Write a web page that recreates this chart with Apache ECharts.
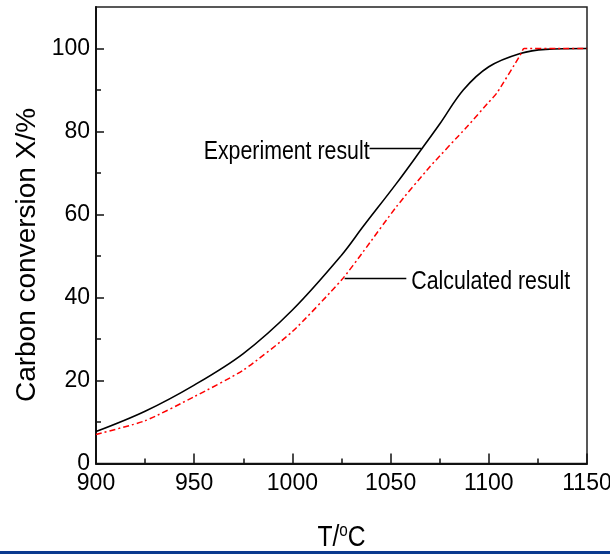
<!DOCTYPE html>
<html>
<head>
<meta charset="utf-8">
<title>carbon conversion</title>
<script src="https://cdn.jsdelivr.net/npm/echarts@6/dist/echarts.min.js"></script>
<style>
  html, body { margin: 0; padding: 0; background: #fff; }
  #main { width: 610px; height: 554px; }
</style>
</head>
<body>
<div id="main"></div>
<script>
// experiment curve (black)
var tempExp = [900, 925, 950, 975, 1000, 1025, 1036, 1053, 1066, 1075, 1087, 1100, 1116, 1129, 1150];
var convExp = [7.7, 12.6, 18.9, 26.5, 37, 50.2, 57.1, 67.5, 75.9, 81.8, 90, 95.6, 98.8, 99.8, 100];
// calculated curve (red dash-dot)
var tempCalc = [900, 925, 950, 975, 1000, 1025, 1036, 1053, 1070, 1089, 1100, 1104, 1116, 1118, 1135, 1150];
var convCalc = [7.0, 10.3, 16.1, 22.5, 31.8, 44.2, 51, 61.9, 71.5, 81.2, 87.1, 89.2, 98.4, 100, 100, 100];
// annotations: leader line from (x1,y1) to (x2,y2), text on one side
var annoText = ['Experiment result', 'Calculated result'];
var annoLine = [[1039.3, 75.9, 1065.7, 75.9], [1026.6, 44.6, 1058.0, 44.6]];
var annoSide = ['left', 'right'];
var yMajor = [0, 20, 40, 60, 80, 100];
var yMinor = [10, 30, 50, 70, 90];

var sans = "'Liberation Sans', Arial, sans-serif";

function zip(a, b) {
    var out = [];
    for (var i = 0; i < a.length; i++) out.push([a[i], b[i]]);
    return out;
}

var annoData = [];
for (var i = 0; i < annoLine.length; i++) annoData.push(annoLine[i].concat([i]));

function renderAnno(params, api) {
    var p1 = api.coord([api.value(0), api.value(1)]);
    var p2 = api.coord([api.value(2), api.value(3)]);
    var k = api.value(4);
    var left = annoSide[k] === 'left';
    return {
        type: 'group',
        children: [{
            type: 'line',
            shape: { x1: p1[0], y1: p1[1], x2: p2[0], y2: p2[1] },
            style: { stroke: '#000', lineWidth: 1.5 }
        }, {
            type: 'text',
            x: left ? p1[0] : p2[0] + 5, y: p1[1] + 3,
            scaleX: 0.82,
            style: { text: annoText[k], fill: '#000', font: '26px ' + sans,
                     align: left ? 'right' : 'left', verticalAlign: 'middle' }
        }]
    };
}

var myChart = echarts.init(document.getElementById('main'));

var option = {
    animation: false,
    grid: { left: 96, right: 23, top: 7, bottom: 90.5, show: true, borderColor: '#222', borderWidth: 1.5, outerBoundsMode: 'none' },
    xAxis: {
        type: 'value', min: 900, max: 1150, interval: 50,
        axisLine: { lineStyle: { color: '#111', width: 2 } },
        axisTick: { inside: true, length: 10, lineStyle: { color: '#111', width: 1.5 } },
        minorTick: { show: true, splitNumber: 2, length: 5, lineStyle: { color: '#111', width: 1.5 } },
        axisLabel: { color: '#000', fontFamily: sans, fontSize: 23, margin: 9, formatter: function (v) { return String(v); } },
        splitLine: { show: false }
    },
    yAxis: [{
        type: 'value', min: 0, max: 110, position: 'left',
        axisLine: { show: true, lineStyle: { color: '#111', width: 2 } },
        axisTick: { inside: true, length: 8, customValues: yMajor, lineStyle: { color: '#111', width: 1.5 } },
        axisLabel: { color: '#000', fontFamily: sans, fontSize: 23, margin: 6, customValues: yMajor },
        splitLine: { show: false }
    }, {
        type: 'value', min: 0, max: 110, position: 'left',
        axisLine: { show: false },
        axisTick: { show: true, inside: true, length: 5, customValues: yMinor, lineStyle: { color: '#111', width: 1.5 } },
        axisLabel: { show: false },
        splitLine: { show: false }
    }],
    series: [{
        name: 'Experiment result', type: 'line', data: zip(tempExp, convExp),
        smooth: 0.35, symbol: 'none',
        lineStyle: { color: '#000', width: 1.6 }
    }, {
        name: 'Calculated result', type: 'line', data: zip(tempCalc, convCalc),
        smooth: 0.2, symbol: 'none',
        lineStyle: { color: '#ff0000', width: 1.5, type: [6, 3, 2, 3] }
    }, {
        type: 'custom', silent: true, renderItem: renderAnno, data: annoData
    }],
    graphic: [{
        type: 'text', x: 27, y: 255, rotation: Math.PI / 2,
        style: { text: 'Carbon conversion X/%', fill: '#000', fontFamily: sans,
                 fontSize: 28, align: 'center', verticalAlign: 'middle' }
    }, {
        type: 'text', x: 341.5, y: 538, scaleX: 0.85,
        style: { text: '{a|T/}{s|o}{a|C}', align: 'center', verticalAlign: 'middle',
                 rich: {
                     a: { fontFamily: sans, fontSize: 29, fill: '#000' },
                     s: { fontFamily: sans, fontSize: 18, fill: '#000', padding: [0, 0, 14, 0] }
                 } }
    }, {
        type: 'rect', left: 0, top: 551, shape: { width: 610, height: 3 }, style: { fill: '#0b3a8f' }
    }]
};
myChart.setOption(option);
</script>
</body>
</html>
